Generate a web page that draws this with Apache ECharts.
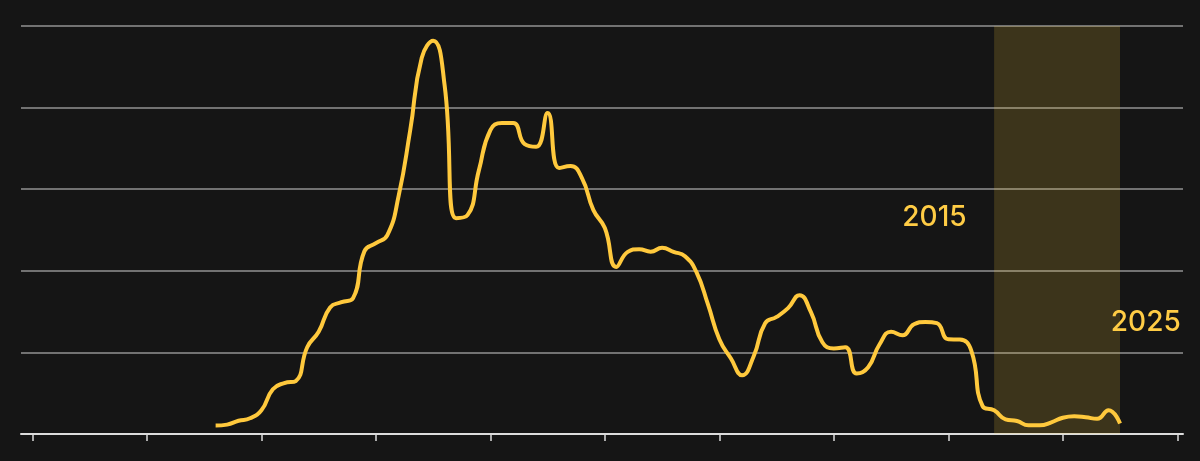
<!DOCTYPE html>
<html>
<head>
<meta charset="utf-8">
<script src="https://cdn.jsdelivr.net/npm/echarts@6/dist/echarts.min.js"></script>
<style>
  html, body { margin: 0; padding: 0; background: #151515; }
  #chart { width: 1200px; height: 461px; }
</style>
</head>
<body>
<div id="chart"></div>
<script>
// yearly values, 1946 - 2025
var years = []
for (var y = 1946; y <= 2025; y++) years.push(y)
var values = [
  1.03, 1.15, 1.62, 1.93, 2.91, 5.48, 6.24, 6.49, 10.63, 12.53,
  15.51, 16.15, 16.64, 22.41, 23.39, 24.37, 29.27, 37.25, 46.08, 48.2,
  42.76, 26.45, 26.82, 32.34, 37.25, 38.1, 38.1, 35.53, 35.2, 39.33,
  32.59, 32.83, 31.36, 27.43, 25.23, 20.48, 22.32, 22.65, 22.34, 22.81,
  22.32, 21.79, 19.83, 15.91, 11.61, 9.28, 7.2, 9.53, 13.58, 14.35,
  15.42, 17.01, 14.93, 11.25, 10.47, 10.63, 7.41, 8.18, 11.0, 12.53,
  12.1, 13.45, 13.74, 13.58, 11.61, 11.58, 10.26, 3.4, 2.91, 1.8,
  1.59, 1.07, 1.07, 1.43, 1.99, 2.17, 2.05, 1.86, 2.91, 1.28
]
var tickYears = [1930, 1940, 1950, 1960, 1970, 1980, 1990, 2000, 2010, 2020, 2030]
var bandRange = [2014, 2025]
var noteText = ['2015', '2025']
var noteYear = [2011.6, 2030.3]
var noteValue = [26.5, 13.6]

var myChart = echarts.init(document.getElementById('chart'))
var option = {
  backgroundColor: '#151515',
  animation: false,
  grid: {
    left: 21,
    right: 17,
    top: 26,
    bottom: 27,
  },
  xAxis: {
    type: 'value',
    min: 1929,
    max: 2030.5,
    splitLine: { show: false },
    axisLine: {
      show: true,
      lineStyle: { color: '#dcdcdc', width: 2 },
    },
    axisTick: {
      show: true,
      inside: false,
      length: 7,
      customValues: tickYears,
      lineStyle: { color: '#dcdcdc', width: 1.5 },
    },
    axisLabel: { show: false },
  },
  yAxis: {
    type: 'value',
    min: 0,
    max: 50,
    interval: 10,
    axisLine: { show: false },
    axisTick: { show: false },
    axisLabel: { show: false },
    splitLine: {
      lineStyle: { color: '#929292', width: 1.5 },
    },
  },
  series: [
    {
      type: 'line',
      data: years.map(function (yr, i) { return [yr, values[i]] }),
      smooth: 0.5,
      showSymbol: false,
      lineStyle: { color: '#ffc93d', width: 4 },
      markArea: {
        silent: true,
        itemStyle: { color: 'rgba(255, 205, 60, 0.17)' },
        data: [[{ xAxis: bandRange[0] }, { xAxis: bandRange[1] }]],
      },
      markPoint: {
        silent: true,
        symbol: 'circle',
        symbolSize: 0,
        label: {
          show: true,
          position: 'inside',
          align: 'right',
          verticalAlign: 'middle',
          color: '#ffcc45',
          fontSize: 28,
          fontWeight: 500,
          fontFamily: 'Inter',
          formatter: '{b}',
        },
        data: noteText.map(function (t, i) {
          return { name: t, coord: [noteYear[i], noteValue[i]] }
        }),
      },
    },
  ],
}
myChart.setOption(option, true)
</script>
</body>
</html>
